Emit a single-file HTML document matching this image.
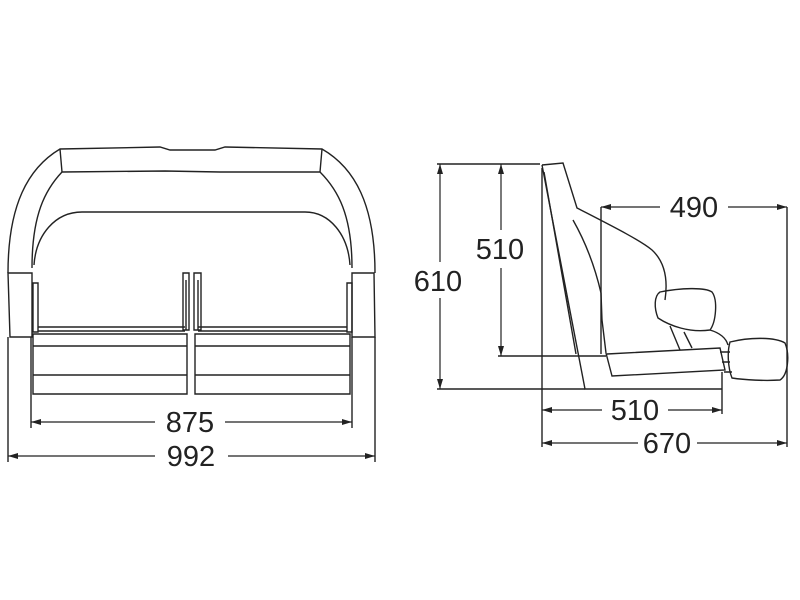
<!DOCTYPE html>
<html><head><style>html,body{margin:0;padding:0;background:#fff;width:800px;height:600px;overflow:hidden}</style></head>
<body>
<svg width="800" height="600" viewBox="0 0 800 600" xmlns="http://www.w3.org/2000/svg">
<defs><marker id="a" viewBox="0 0 10 6" refX="10" refY="3" markerWidth="10" markerHeight="6" orient="auto-start-reverse" markerUnits="userSpaceOnUse"><path d="M0,0 L10,3 L0,6z" fill="#222"/></marker></defs>
<g fill="none" stroke="#222" stroke-width="1.4">
<!-- front view -->
<path d="M8,273 C8,205 28,168 60,149 L160,147 L170,150 L215,150 L225,147 L322,149 C355,168 375,205 375,273"/>
<path d="M32,268 C32,215 45,190 62,172 L165,171 L220,172 L320,172 C338,190 352,215 352,268"/>
<path d="M60,149 L62,172 M322,149 L320,172"/>
<path d="M34,265 C36,235 55,212 82,212 L305,212 C330,212 348,235 350,265"/>
<path d="M8,273 L32,273 L32,337 L10,337 Z"/>
<path d="M352,273 L374,273 L375,337 L352,337 Z"/>
<path d="M33,283 L38,283 L38,332 L33,332 Z M347,283 L352,283 L352,332 L347,332 Z"/>
<path d="M38,327 L185,327 M38,331 L185,331 M198,327 L347,327 M198,331 L347,331"/>
<path d="M183,273 L189,273 L189,330 L183,330 Z M194,273 L201,273 L201,330 L194,330 Z M186,280 L186,330 M198,280 L198,330"/>
<path d="M33,334 L187,334 L187,394 L33,394 Z M195,334 L350,334 L350,394 L195,394 Z"/>
<path d="M33,346 L187,346 M33,375 L187,375 M195,346 L350,346 M195,375 L350,375"/>
<path d="M31,337 L31,428 M352,337 L352,428 M8,337 L8,462 M375,337 L375,462"/>
<!-- side view -->
<path d="M542,165 L563,163 L577,208 C610,225 640,240 652,250 C665,262 668,280 665,300"/>
<path d="M542,165 L585,389 L722,389"/>
<path d="M544,172 L576,354"/>
<path d="M573,220 C590,250 598,280 601,293 L602,320 L606,353 L612,376 L725,370 L720,348 L607,354"/>
<path d="M660,292 C680,288 705,287 712,292 C718,300 716,322 710,330 C690,333 670,326 658,318 C654,308 654,296 660,292 Z"/>
<path d="M670,326 L680,350 M684,332 L692,348 M710,330 C720,333 726,338 728,345"/>
<path d="M730,342 C750,337 775,337 785,343 C790,355 788,375 780,380 C765,381 745,380 732,378 C728,368 727,352 730,342 Z"/>
<path d="M720,352 L730,352 M722,362 L730,362 M724,372 L732,372"/>
<path d="M437,164 L540,164 M437,389 L585,389 M498,356 L606,356"/>
<path d="M542,168 L542,447 M722,372 L722,414 M601,207 L601,354 M787,207 L787,447"/>
</g>
<g stroke="#222" stroke-width="1.2" fill="none">
<line x1="31" y1="422" x2="155" y2="422" marker-start="url(#a)"/><line x1="225" y1="422" x2="352" y2="422" marker-end="url(#a)"/>
<line x1="8" y1="456" x2="155" y2="456" marker-start="url(#a)"/><line x1="228" y1="456" x2="375" y2="456" marker-end="url(#a)"/>
<line x1="440" y1="164" x2="440" y2="262" marker-start="url(#a)"/><line x1="440" y1="298" x2="440" y2="389" marker-end="url(#a)"/>
<line x1="501" y1="164" x2="501" y2="230" marker-start="url(#a)"/><line x1="501" y1="268" x2="501" y2="356" marker-end="url(#a)"/>
<line x1="601" y1="207" x2="660" y2="207" marker-start="url(#a)"/><line x1="728" y1="207" x2="787" y2="207" marker-end="url(#a)"/>
<line x1="542" y1="410" x2="602" y2="410" marker-start="url(#a)"/><line x1="668" y1="410" x2="722" y2="410" marker-end="url(#a)"/>
<line x1="542" y1="443" x2="638" y2="443" marker-start="url(#a)"/><line x1="697" y1="443" x2="787" y2="443" marker-end="url(#a)"/>
</g>
<g font-family="'Liberation Sans',sans-serif" font-size="29" fill="#222" text-anchor="middle">
<text x="190" y="432">875</text>
<text x="191" y="466">992</text>
<text x="438" y="291">610</text>
<text x="500" y="259">510</text>
<text x="694" y="217">490</text>
<text x="635" y="420">510</text>
<text x="667" y="453">670</text>
</g>
</svg>
</body></html>
